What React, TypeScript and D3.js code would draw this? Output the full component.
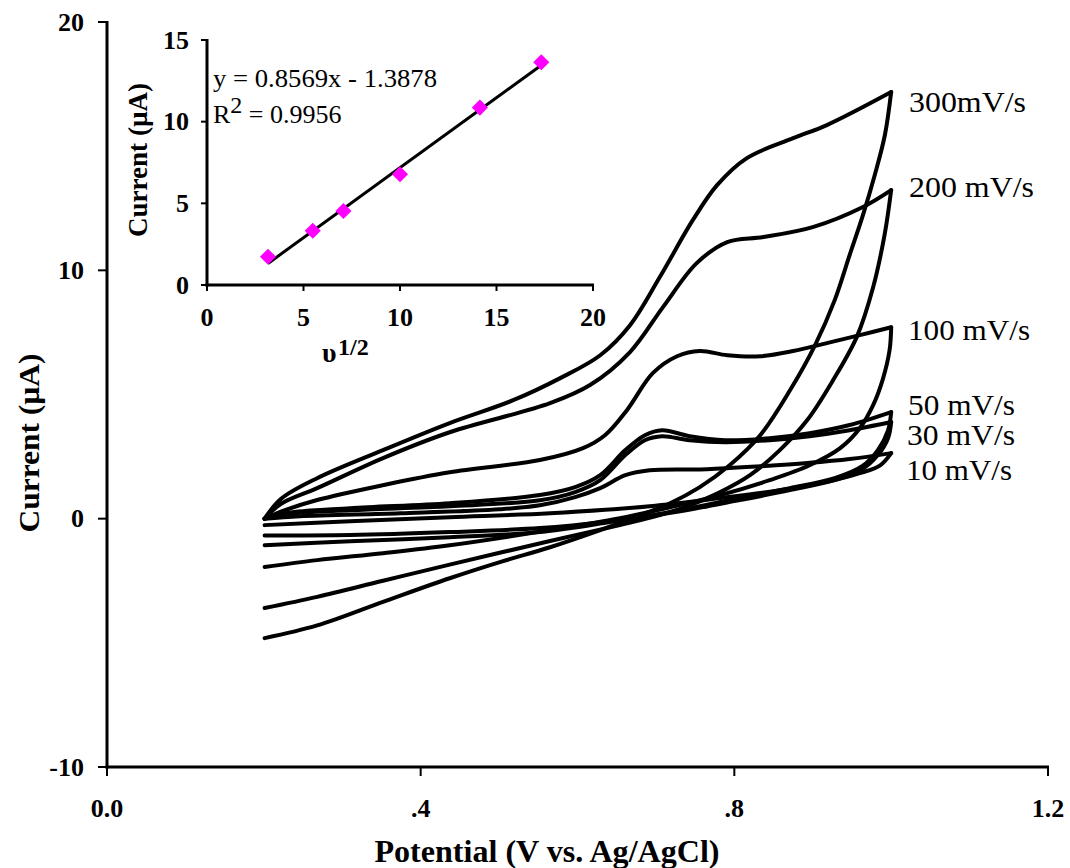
import React from "react";
import * as d3 from "d3";

type Pt = [number, number];

// ---- Cyclic voltammograms: [potential (V), current (µA)] ----
const fwd300: Pt[] = [
  [0.201, 0.0], [0.222, 0.8], [0.268, 1.63], [0.352, 2.76], [0.437, 3.85], [0.518, 4.77],
  [0.578, 5.66], [0.629, 6.58], [0.667, 7.79], [0.705, 9.73], [0.747, 12.02], [0.778, 13.43],
  [0.816, 14.52], [0.875, 15.32], [0.918, 15.85], [1.0, 17.18],
];
const rev300: Pt[] = [
  [1.0, 17.18], [0.992, 15.45], [0.979, 13.83], [0.964, 12.22], [0.947, 10.61], [0.928, 8.8],
  [0.903, 6.99], [0.871, 5.17], [0.833, 3.36], [0.794, 2.15], [0.756, 1.27], [0.718, 0.62],
  [0.68, 0.14], [0.629, -0.46], [0.565, -1.15], [0.501, -1.75], [0.437, -2.4], [0.352, -3.35],
  [0.268, -4.3], [0.201, -4.81],
];
const fwd200: Pt[] = [
  [0.201, 0.0], [0.222, 0.6], [0.268, 1.23], [0.352, 2.44], [0.437, 3.48], [0.565, 4.65],
  [0.616, 5.38], [0.667, 6.71], [0.709, 8.52], [0.752, 10.29], [0.791, 11.14], [0.837, 11.34],
  [0.9, 11.74], [0.964, 12.55], [1.0, 13.23],
];
const rev200: Pt[] = [
  [1.0, 13.23], [0.992, 11.5], [0.977, 9.32], [0.956, 7.31], [0.926, 5.58], [0.893, 3.97],
  [0.858, 2.76], [0.82, 1.75], [0.782, 1.07], [0.743, 0.54], [0.705, 0.14], [0.654, -0.26],
  [0.565, -0.9], [0.437, -1.85], [0.352, -2.5], [0.268, -3.15], [0.201, -3.6],
];
const fwd100: Pt[] = [
  [0.201, 0.0], [0.227, 0.34], [0.268, 0.75], [0.352, 1.35], [0.437, 1.87], [0.552, 2.36],
  [0.607, 2.84], [0.635, 3.36], [0.663, 4.37], [0.696, 5.86], [0.727, 6.54], [0.756, 6.75],
  [0.791, 6.58], [0.833, 6.54], [0.875, 6.75], [0.918, 7.07], [0.96, 7.39], [1.0, 7.71],
];
const rev100: Pt[] = [
  [1.0, 7.71], [0.998, 6.79], [0.989, 5.58], [0.977, 4.57], [0.96, 3.64], [0.935, 2.84],
  [0.896, 2.15], [0.845, 1.55], [0.782, 0.95], [0.718, 0.46], [0.654, 0.02], [0.565, -0.46],
  [0.437, -1.07], [0.352, -1.39], [0.268, -1.67], [0.201, -1.95],
];
const fwd50: Pt[] = [
  [0.201, 0.0], [0.227, 0.22], [0.31, 0.42], [0.437, 0.62], [0.552, 0.95], [0.597, 1.27],
  [0.629, 1.75], [0.661, 2.76], [0.686, 3.36], [0.708, 3.56], [0.743, 3.32], [0.788, 3.16],
  [0.845, 3.24], [0.896, 3.44], [0.947, 3.77], [1.0, 4.29],
];
const rev50: Pt[] = [
  [1.0, 4.29], [0.996, 3.56], [0.983, 2.76], [0.963, 2.11], [0.928, 1.63], [0.871, 1.23],
  [0.807, 0.83], [0.731, 0.34], [0.641, -0.14], [0.552, -0.54], [0.437, -0.75], [0.31, -0.91],
  [0.201, -1.07],
];
const fwd30: Pt[] = [
  [0.201, 0.0], [0.227, 0.18], [0.31, 0.34], [0.437, 0.5], [0.552, 0.74], [0.597, 1.07],
  [0.629, 1.55], [0.661, 2.56], [0.686, 3.16], [0.708, 3.32], [0.743, 3.16], [0.788, 3.08],
  [0.845, 3.16], [0.896, 3.32], [0.947, 3.56], [1.0, 3.89],
];
const rev30: Pt[] = [
  [1.0, 3.89], [0.996, 3.24], [0.983, 2.56], [0.963, 1.99], [0.928, 1.55], [0.871, 1.15],
  [0.807, 0.75], [0.731, 0.3], [0.641, -0.1], [0.552, -0.38], [0.437, -0.54], [0.31, -0.66],
  [0.201, -0.68],
];
const fwd10: Pt[] = [
  [0.201, 0.0], [0.246, 0.1], [0.374, 0.22], [0.501, 0.38], [0.552, 0.54], [0.597, 0.87],
  [0.629, 1.23], [0.661, 1.75], [0.692, 1.95], [0.765, 1.99], [0.833, 2.11], [0.893, 2.24],
  [0.947, 2.4], [1.0, 2.64],
];
const rev10: Pt[] = [
  [1.0, 2.64], [0.986, 2.15], [0.96, 1.83], [0.922, 1.51], [0.858, 1.15], [0.782, 0.83],
  [0.692, 0.5], [0.565, 0.22], [0.437, 0.06], [0.31, -0.1], [0.201, -0.26],
];

const rateLabels = ["300mV/s", "200 mV/s", "100 mV/s", "50 mV/s", "30 mV/s", "10 mV/s"];
const branches: Pt[][] = [fwd300, rev300, fwd200, rev200, fwd100, rev100, fwd50, rev50, fwd30, rev30, fwd10, rev10];

// ---- Inset: peak current vs square root of scan rate ----
const insetSqrtRate = [3.16, 5.48, 7.07, 10.0, 14.14, 17.32];
const insetCurrent = [1.73, 3.32, 4.53, 6.78, 10.86, 13.64];
const fitSlope = 0.8569;
const fitIntercept = -1.3878;
const fitEquation = "y = 0.8569x - 1.3878";
const fitR2 = "0.9956";

// ---- Axes ----
const xTicks = [0, 0.4, 0.8, 1.2];
const xTickLabels = ["0.0", ".4", ".8", "1.2"];
const yTicks = [-10, 0, 10, 20];
const insetXTicks = [0, 5, 10, 15, 20];
const insetYTicks = [0, 5, 10, 15];

const FONT = "'Liberation Serif', 'Times New Roman', serif";

export default function App() {
  const W = 1070, H = 868;
  const x = d3.scaleLinear().domain([0, 1.2]).range([107, 1048]);
  const y = d3.scaleLinear().domain([-10, 20]).range([767, 22]);
  const ix = d3.scaleLinear().domain([0, 20]).range([207, 593]);
  const iy = d3.scaleLinear().domain([0, 15]).range([285, 40]);

  const line = d3
    .line<Pt>()
    .x((d) => x(d[0]))
    .y((d) => y(d[1]))
    .curve(d3.curveCatmullRom.alpha(0.5));

  const diamond = d3.symbol().type(d3.symbolSquare).size(130)();
  const fitX0 = d3.min(insetSqrtRate) as number;
  const fitX1 = d3.max(insetSqrtRate) as number;

  const labelPos = [
    { x: 909, y: 112, w: 117 },
    { x: 909, y: 197, w: 125 },
    { x: 908, y: 340, w: 122 },
    { x: 908, y: 415, w: 107 },
    { x: 907, y: 445, w: 108 },
    { x: 906, y: 480, w: 106 },
  ];

  return (
    <svg
      width={W}
      height={H}
      viewBox={`0 0 ${W} ${H}`}
      style={{ position: "absolute", left: 0, top: 0, background: "#fff" }}
      fontFamily={FONT}
    >
      <rect x={0} y={0} width={W} height={H} fill="#fff" />

      {/* CV curves */}
      <g fill="none" stroke="#000" strokeWidth={4} strokeLinejoin="round" strokeLinecap="round">
        {branches.map((b, i) => (
          <path key={i} d={line(b) || ""} />
        ))}
      </g>

      {/* main axes */}
      <g stroke="#000">
        <line x1={x(0)} x2={x(0)} y1={y(20) - 1} y2={y(-10) + 1.5} strokeWidth={3} />
        <line x1={x(0) - 1.5} x2={x(1.2) + 1} y1={y(-10)} y2={y(-10)} strokeWidth={3} />
        {yTicks.map((t) => (
          <line key={"yt" + t} x1={x(0) - 9} x2={x(0)} y1={y(t)} y2={y(t)} strokeWidth={2} />
        ))}
        {xTicks.map((t) => (
          <line key={"xt" + t} x1={x(t)} x2={x(t)} y1={y(-10)} y2={y(-10) + 9} strokeWidth={2} />
        ))}
      </g>
      <g fontWeight="bold" fontSize={26} fill="#000">
        {yTicks.map((t) => (
          <text key={"yl" + t} x={84} y={y(t) + 8.5} textAnchor="end">
            {t}
          </text>
        ))}
        {xTicks.map((t, i) => (
          <text key={"xl" + t} x={x(t)} y={817} textAnchor="middle">
            {xTickLabels[i]}
          </text>
        ))}
      </g>
      <text
        x={547}
        y={862}
        textAnchor="middle"
        fontWeight="bold"
        fontSize={31}
        textLength={345}
        lengthAdjust="spacingAndGlyphs"
      >
        Potential (V vs. Ag/AgCl)
      </text>
      <text
        transform={`translate(39, 443) rotate(-90)`}
        textAnchor="middle"
        fontWeight="bold"
        fontSize={30}
        textLength={179}
        lengthAdjust="spacingAndGlyphs"
      >
        Current (µA)
      </text>

      {/* scan-rate labels */}
      <g fontSize={29} fill="#000">
        {rateLabels.map((l, i) => (
          <text
            key={l}
            x={labelPos[i].x}
            y={labelPos[i].y}
            textLength={labelPos[i].w}
            lengthAdjust="spacingAndGlyphs"
          >
            {l}
          </text>
        ))}
      </g>

      {/* inset */}
      <g stroke="#000">
        <line x1={ix(0)} x2={ix(0)} y1={iy(15) - 1} y2={iy(0) + 1.5} strokeWidth={3} />
        <line x1={ix(0) - 1.5} x2={ix(20) + 1} y1={iy(0)} y2={iy(0)} strokeWidth={3} />
        {insetYTicks.map((t) => (
          <line key={"iyt" + t} x1={ix(0) - 6} x2={ix(0)} y1={iy(t)} y2={iy(t)} strokeWidth={2} />
        ))}
        {insetXTicks.map((t) => (
          <line key={"ixt" + t} x1={ix(t)} x2={ix(t)} y1={iy(0)} y2={iy(0) + 6} strokeWidth={2} />
        ))}
        <line
          x1={ix(fitX0)}
          y1={iy(fitSlope * fitX0 + fitIntercept)}
          x2={ix(fitX1)}
          y2={iy(fitSlope * fitX1 + fitIntercept)}
          strokeWidth={3}
        />
      </g>
      <g fill="#FF00FF">
        {insetSqrtRate.map((v, i) => (
          <path
            key={"pt" + i}
            d={diamond || ""}
            transform={`translate(${ix(v)}, ${iy(insetCurrent[i])}) rotate(45)`}
          />
        ))}
      </g>
      <g fontWeight="bold" fontSize={26} fill="#000">
        {insetYTicks.map((t) => (
          <text key={"iyl" + t} x={189} y={iy(t) + 8.5} textAnchor="end">
            {t}
          </text>
        ))}
        {insetXTicks.map((t) => (
          <text key={"ixl" + t} x={ix(t)} y={iy(0) + 41} textAnchor="middle">
            {t}
          </text>
        ))}
      </g>
      <text
        transform={`translate(147, 160) rotate(-90)`}
        textAnchor="middle"
        fontWeight="bold"
        fontSize={27}
        textLength={154}
        lengthAdjust="spacingAndGlyphs"
      >
        Current (µA)
      </text>
      <g fontWeight="bold" fill="#000">
        <text x={322} y={362} fontSize={28}>
          υ
        </text>
        <text x={338} y={355} fontSize={24}>
          1/2
        </text>
      </g>
      <g fontSize={26} fill="#000">
        <text x={213} y={87} textLength={224} lengthAdjust="spacingAndGlyphs">
          {fitEquation}
        </text>
        <text x={213} y={123}>
          R
          <tspan dy={-10} fontSize={24}>
            2
          </tspan>
          <tspan dy={10}> = {fitR2}</tspan>
        </text>
      </g>
    </svg>
  );
}
